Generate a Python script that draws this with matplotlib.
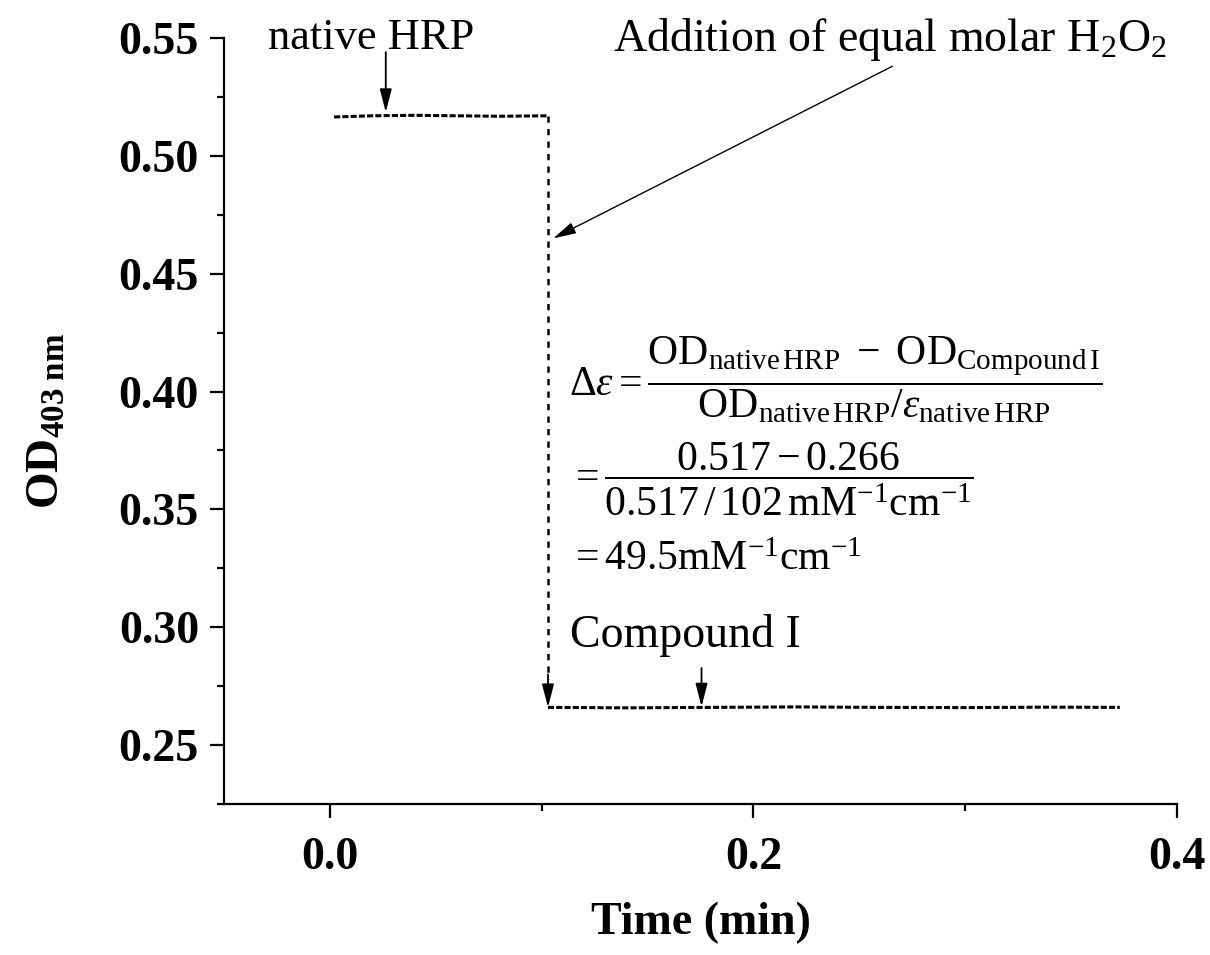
"""
OD403 trace of native HRP converting to Compound I after H2O2 addition.
"""

import matplotlib
matplotlib.use('Agg')
import matplotlib.pyplot as plt
from matplotlib.ticker import MultipleLocator

plt.rcParams['font.family'] = ['Liberation Serif', 'DejaVu Serif']
plt.rcParams['mathtext.fontset'] = 'custom'
plt.rcParams['mathtext.rm'] = 'Liberation Serif'
plt.rcParams['mathtext.it'] = 'Liberation Serif:italic'
plt.rcParams['mathtext.bf'] = 'Liberation Serif:bold'

# readings
native_time = [0.002, 0.02, 0.04, 0.06, 0.08, 0.103]
native_od = [0.5165, 0.5170, 0.5172, 0.5170, 0.5168, 0.5170]
compound_time = [0.103, 0.14, 0.18, 0.22, 0.26, 0.30, 0.34, 0.373]
compound_od = [0.2660, 0.2658, 0.2660, 0.2662, 0.2660, 0.2659, 0.2661, 0.2660]
addition_time = 0.103

x_ticks = [0.0, 0.2, 0.4]
y_ticks = [0.25, 0.30, 0.35, 0.40, 0.45, 0.50, 0.55]

fig = plt.figure(figsize=(12.1, 9.55), dpi=100)
ax = fig.add_axes([0.1851, 0.1581, 0.7876, 0.8021])

ax.plot(native_time, native_od, color='black', lw=2.2, linestyle=(0, (2, 0.7)))
ax.plot(compound_time, compound_od, color='black', lw=2.2, linestyle=(0, (2, 0.7)))

# dashed drop at the moment of addition
ax.plot([addition_time, addition_time], [native_od[-1], compound_od[0] + 0.012],
        color='black', lw=1.8, linestyle=(0, (2.5, 2.5)))
head = dict(arrowstyle='-|>,head_length=0.7,head_width=0.18', color='black',
            lw=1.3, mutation_scale=20, shrinkA=0, shrinkB=0)
ax.annotate('', xy=(addition_time, compound_od[0]),
            xytext=(addition_time, compound_od[0] + 0.014), arrowprops=head)

# labels with arrows
ax.annotate('', xy=(0.0264, 0.5185), xytext=(0.0264, 0.544), arrowprops=head)
ax.text(0.0195, 0.5455, 'native HRP', fontsize=32, ha='center', va='baseline')

ax.annotate('', xy=(0.1055, 0.465), xytext=(0.2656, 0.538),
            arrowprops=dict(head, lw=1.0))
ax.text(0.1335, 0.5445, r'Addition of equal molar H$_2$O$_2$', fontsize=33,
        ha='left', va='baseline')

ax.annotate('', xy=(0.1755, 0.2663), xytext=(0.1755, 0.2827), arrowprops=head)
ax.text(0.1135, 0.2915, 'Compound I', fontsize=33, ha='left', va='baseline')

# extinction coefficient worked out on the plot
ax.text(0.1127, 0.4050,
        r'$\Delta\varepsilon = \dfrac{\mathrm{OD_{native\,HRP}\ -\ OD_{Compound\,I}}}'
        r'{\mathrm{OD_{native\,HRP}}/\varepsilon_{\mathrm{native\,HRP}}}$',
        fontsize=30, ha='left', va='center')
ax.text(0.1127, 0.3630,
        r'$= \dfrac{0.517 - 0.266}{0.517\,/\,102\,\mathrm{mM^{-1}cm^{-1}}}$',
        fontsize=30, ha='left', va='center')
ax.text(0.1127, 0.3285, r'$= 49.5\mathrm{mM^{-1}cm^{-1}}$',
        fontsize=30, ha='left', va='center')

ax.set_xlim(-0.05, 0.4)
ax.set_ylim(0.225, 0.55)
ax.set_xticks(x_ticks)
ax.set_yticks(y_ticks)
ax.set_xticklabels([f'{v:.1f}' for v in x_ticks])
ax.set_yticklabels([f'{v:.2f}' for v in y_ticks])
ax.xaxis.set_minor_locator(MultipleLocator(0.1))
ax.yaxis.set_minor_locator(MultipleLocator(0.025))

for side in ['top', 'right']:
    ax.spines[side].set_visible(False)
for side in ['left', 'bottom']:
    ax.spines[side].set_linewidth(1.6)

ax.tick_params(which='major', direction='out', length=10, width=1.6, pad=8,
               labelsize=33)
ax.tick_params(axis='x', which='major', pad=14)
ax.tick_params(which='minor', direction='out', length=5, width=1.6)
for lab in ax.get_xticklabels() + ax.get_yticklabels():
    lab.set_fontweight('bold')

ax.set_xlabel('Time (min)', fontsize=33, fontweight='bold', labelpad=16)
ax.set_ylabel(r'$\mathbf{OD_{403\ nm}}$', fontsize=34, labelpad=36)

fig.savefig('out.png', dpi=100)
